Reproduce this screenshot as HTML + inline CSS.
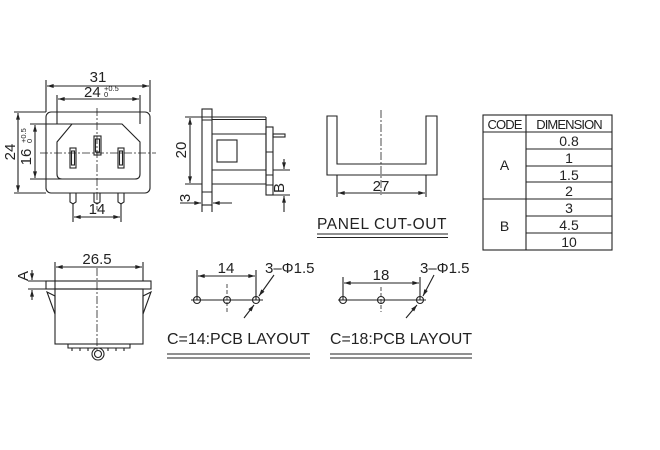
<!DOCTYPE html>
<html><head><meta charset="utf-8"><style>
html,body{margin:0;padding:0;background:#fff;width:660px;height:450px;overflow:hidden}
svg{display:block}
text{font-family:"Liberation Sans",Arial,sans-serif;fill:#222}
</style></head><body>
<svg width="660" height="450" viewBox="0 0 660 450" xmlns="http://www.w3.org/2000/svg">
<defs>
<marker id="a" viewBox="0 0 10 6" refX="10" refY="3" markerWidth="8" markerHeight="4" orient="auto-start-reverse" markerUnits="userSpaceOnUse"><path d="M0,0L10,3L0,6z" fill="#222"/></marker>
</defs>
<g stroke="#222" stroke-width="1.1" fill="none">
<!-- FRONT VIEW -->
<rect x="46" y="112" width="104" height="81" rx="5"/>
<path d="M72,124 L122,124 L140,142 L140,174 Q140,179 135,179 L62,179 Q57,179 57,174 L57,142 Z"/>
<rect x="70" y="148" width="6" height="20"/><rect x="71.5" y="151" width="3" height="14"/>
<rect x="94" y="136" width="7" height="19"/><rect x="95.5" y="139" width="4" height="13"/>
<rect x="118" y="148" width="6" height="20"/><rect x="119.5" y="151" width="3" height="14"/>
<path d="M70,193 v9 l3,2 l3,-2 v-9 M94,193 v9 l3,2 l3,-2 v-9 M118,193 v9 l3,2 l3,-2 v-9"/>
<path d="M97,108 V210 M40,153 H156" stroke-dasharray="8,2,2,2" stroke-width="0.8"/>
<path d="M46,112 V80 M150,112 V80 M57,124 V95 M140,124 V95"/>
<path d="M47,86 H149" marker-start="url(#a)" marker-end="url(#a)"/>
<path d="M58,99 H139" marker-start="url(#a)" marker-end="url(#a)"/>
<path d="M14,112 H46 M14,193 H46 M30,124 H72 M30,179 H62"/>
<path d="M18,113 V192" marker-start="url(#a)" marker-end="url(#a)"/>
<path d="M35,125 V178" marker-start="url(#a)" marker-end="url(#a)"/>
<path d="M73,204 V222 M121,204 V222"/>
<path d="M74,217 H120" marker-start="url(#a)" marker-end="url(#a)"/>
<!-- SIDE VIEW -->
<rect x="202" y="109" width="10" height="96"/>
<path d="M202,120 H212 M202,192 H212"/>
<path d="M212,117 H266 M212,119.5 H266 M212,134 H266 M212,170 H266 M212,184 H266 M266,117 V184"/>
<rect x="217" y="140" width="20" height="22"/>
<rect x="266" y="127" width="7" height="68"/>
<rect x="273" y="134" width="12" height="3"/>
<path d="M266,152 H273 M266,175 H273 M266,185 H273"/>
<path d="M185,117 H212 M185,184 H202"/>
<path d="M190,118 V183" marker-start="url(#a)" marker-end="url(#a)"/>
<path d="M202,205 V212 M212,205 V212"/>
<path d="M180,203 H201" marker-end="url(#a)"/><path d="M232,203 H213" marker-end="url(#a)"/>
<path d="M273,170 H290 M273,195 H290"/>
<path d="M284,159 V169" marker-end="url(#a)"/><path d="M284,212 V196" marker-end="url(#a)"/>
<!-- PANEL CUT-OUT -->
<path d="M327,116 H337 V164 H426 V116 H437 V175 H327 Z"/>
<path d="M381,110 V195" stroke-dasharray="8,2,2,2" stroke-width="0.8"/>
<path d="M337,175 V197 M426,175 V197"/>
<path d="M338,193 H425" marker-start="url(#a)" marker-end="url(#a)"/>
<path d="M317,234 H448 M317,237.5 H448"/>
<!-- TABLE -->
<rect x="483" y="115" width="129" height="135"/>
<path d="M483,132 H612 M526,115 V250 M483,199 H612"/>
<path d="M526,149 H612 M526,166 H612 M526,182 H612 M526,216 H612 M526,233 H612"/>
<!-- BOTTOM VIEW -->
<rect x="46" y="281" width="105" height="8"/>
<rect x="55" y="289" width="88" height="55"/>
<path d="M47,292 L55,296 L55,314 Z M151,292 L143,296 L143,314 Z"/>
<path d="M68,344 h62 v4 h-62 z M72,348 v3 M80,348 v3 M88,348 v3 M108,348 v3 M116,348 v3 M124,348 v3"/>
<circle cx="98" cy="354" r="6"/><circle cx="98" cy="354" r="3.5"/>
<path d="M97,268 V352" stroke-dasharray="8,2,2,2" stroke-width="0.8"/>
<path d="M55,262 V289 M143,262 V281"/>
<path d="M56,267 H142" marker-start="url(#a)" marker-end="url(#a)"/>
<path d="M28,281 H46 M28,289 H46"/>
<path d="M32,270 V280" marker-end="url(#a)"/><path d="M32,300 V290" marker-end="url(#a)"/>
<!-- PCB 14 -->
<path d="M191,300 H263"/>
<circle cx="197" cy="300" r="3.5"/><circle cx="227" cy="300" r="3.5"/><circle cx="256" cy="300" r="3.5"/>
<path d="M197,270 V300 M256,270 V300"/>
<path d="M227,284 V312" stroke-dasharray="4,2" stroke-width="0.8"/>
<path d="M198,276 H255" marker-start="url(#a)" marker-end="url(#a)"/>
<path d="M274,275 L259,296" marker-end="url(#a)"/><path d="M244,318 L254,305" marker-end="url(#a)"/>
<path d="M167,354 H310 M167,358 H310"/>
<!-- PCB 18 -->
<path d="M338,300 H426"/>
<circle cx="343" cy="300" r="3.5"/><circle cx="381" cy="300" r="3.5"/><circle cx="420" cy="300" r="3.5"/>
<path d="M343,277 V300 M420,277 V300"/>
<path d="M381,287 V312" stroke-dasharray="4,2" stroke-width="0.8"/>
<path d="M344,283 H419" marker-start="url(#a)" marker-end="url(#a)"/>
<path d="M434,275 L423,296" marker-end="url(#a)"/><path d="M406,318 L417,305" marker-end="url(#a)"/>
<path d="M330,354 H472 M330,358 H472"/>
</g>
<g font-size="15">
<text x="98" y="82" text-anchor="middle">31</text>
<text x="84" y="97">24</text><text x="104" y="91" font-size="7.5">+0.5</text><text x="104" y="97" font-size="7.5">0</text>
<text transform="translate(15,152) rotate(-90)" text-anchor="middle">24</text>
<text transform="translate(31,157) rotate(-90)" text-anchor="middle">16</text>
<text transform="translate(26,143) rotate(-90)" font-size="7.5">+0.5</text>
<text transform="translate(32,143) rotate(-90)" font-size="7.5">0</text>
<text x="97" y="214" text-anchor="middle">14</text>
<text transform="translate(186,150) rotate(-90)" text-anchor="middle">20</text>
<text transform="translate(190,198) rotate(-90)" text-anchor="middle">3</text>
<text transform="translate(284,188) rotate(-90)" text-anchor="middle">B</text>
<text x="381" y="191" text-anchor="middle">27</text>
<text x="317" y="229" font-size="15.5" letter-spacing="0.6">PANEL CUT-OUT</text>
<text x="97" y="264" text-anchor="middle">26.5</text>
<text transform="translate(28,276) rotate(-90)" text-anchor="middle">A</text>
<text x="226" y="273" text-anchor="middle">14</text>
<text x="265" y="273">3–Φ1.5</text>
<text x="381" y="280" text-anchor="middle">18</text>
<text x="420" y="273">3–Φ1.5</text>
<text x="167" y="344" font-size="16" textLength="143" lengthAdjust="spacingAndGlyphs">C=14:PCB LAYOUT</text>
<text x="330" y="344" font-size="16" textLength="142" lengthAdjust="spacingAndGlyphs">C=18:PCB LAYOUT</text>
</g>
<g font-size="14" text-anchor="middle">
<text x="504.5" y="129" font-size="13" letter-spacing="-0.9">CODE</text>
<text x="569" y="129" font-size="13" letter-spacing="-0.9">DIMENSION</text>
<text x="504.5" y="170">A</text>
<text x="504.5" y="231">B</text>
<text x="569" y="146">0.8</text>
<text x="569" y="163">1</text>
<text x="569" y="180">1.5</text>
<text x="569" y="196">2</text>
<text x="569" y="213">3</text>
<text x="569" y="230">4.5</text>
<text x="569" y="247">10</text>
</g>
</svg>
</body></html>
